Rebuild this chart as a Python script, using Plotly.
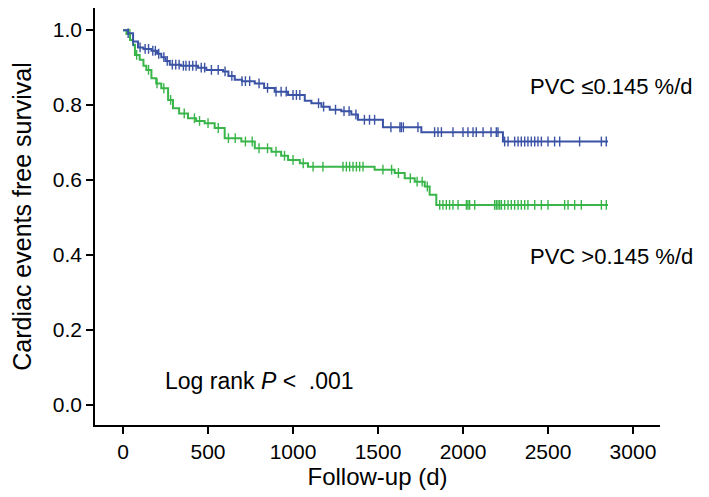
import numpy as np
import plotly.graph_objects as go

# ---- data ----
low_t = [0, 29, 59, 88, 120, 167, 200, 225, 250, 275, 340, 441, 490, 588, 620, 657, 700, 775, 830, 892,
         971, 1069, 1108, 1167, 1216, 1284, 1343, 1382, 1529, 1755, 2235, 2853]
low_s = [1.0, 0.992, 0.970, 0.954, 0.950, 0.945, 0.937, 0.928, 0.918, 0.908, 0.905, 0.900, 0.894, 0.890,
         0.878, 0.868, 0.864, 0.858, 0.846, 0.836, 0.827, 0.812, 0.805, 0.796, 0.788, 0.784, 0.775, 0.761,
         0.741, 0.728, 0.703, 0.703]
low_cens = [30, 60, 100, 130, 150, 175, 190, 210, 240, 260, 290, 310, 330, 355, 370, 390, 410, 430, 460, 480,
            520, 560, 600, 640, 700, 720, 745, 800, 850, 900, 930, 960, 1000, 1020, 1040, 1150, 1180, 1250,
            1300, 1330, 1370, 1420, 1450, 1480, 1576, 1629, 1637, 1649, 1735, 1833, 1853, 1873, 1941, 2000,
            2029, 2059, 2078, 2118, 2165, 2196, 2206, 2245, 2265, 2304, 2324, 2343, 2363, 2382, 2402, 2422,
            2441, 2461, 2500, 2539, 2569, 2686, 2814, 2843]

high_t = [0, 20, 41, 59, 70, 98, 120, 137, 167, 195, 225, 265, 294, 330, 382, 430, 480, 539, 598, 696, 775,
          873, 930, 971, 1040, 1088, 1480, 1598, 1657, 1716, 1775, 1804, 1843, 2853]
high_s = [1.0, 0.990, 0.974, 0.961, 0.934, 0.921, 0.905, 0.894, 0.872, 0.858, 0.845, 0.814, 0.792, 0.778,
          0.765, 0.758, 0.752, 0.739, 0.712, 0.703, 0.685, 0.676, 0.665, 0.654, 0.645, 0.636, 0.628, 0.619,
          0.605, 0.596, 0.583, 0.561, 0.534, 0.534]
high_cens = [40, 80, 150, 200, 240, 280, 360, 420, 450, 500, 560, 620, 660, 720, 760, 800, 850, 900, 950,
             1000, 1060, 1118, 1176, 1294, 1314, 1333, 1353, 1373, 1392, 1412, 1529, 1580, 1620, 1690, 1730,
             1760, 1790, 1863, 1882, 1902, 1921, 1941, 1971, 2020, 2029, 2039, 2069, 2186, 2196, 2206, 2216,
             2226, 2245, 2265, 2284, 2304, 2324, 2343, 2363, 2382, 2422, 2461, 2500, 2598, 2618, 2657, 2696,
             2814, 2843]

x_ticks = [0, 500, 1000, 1500, 2000, 2500, 3000]
y_ticks = [0.0, 0.2, 0.4, 0.6, 0.8, 1.0]

BLUE = "#3B53A5"
GREEN = "#39B54A"
FONT = "Liberation Sans, Arial, sans-serif"


def step_at(t, s, c):
    t = np.asarray(t)
    s = np.asarray(s)
    idx = np.searchsorted(t, np.asarray(c), side="right") - 1
    return s[idx]


fig = go.Figure()
for t, s, cens, col in [(high_t, high_s, high_cens, GREEN), (low_t, low_s, low_cens, BLUE)]:
    fig.add_trace(go.Scatter(x=t, y=s, mode="lines", line=dict(color=col, width=2, shape="hv"),
                             showlegend=False, hoverinfo="skip"))
    fig.add_trace(go.Scatter(x=cens, y=step_at(t, s, cens), mode="markers",
                             marker=dict(symbol="line-ns", size=7, line=dict(color=col, width=1.4)),
                             showlegend=False, hoverinfo="skip"))

axis_common = dict(showline=True, linecolor="black", linewidth=1.5, ticks="outside", ticklen=7,
                   tickwidth=1.5, tickcolor="black", showgrid=False, zeroline=False, mirror=False,
                   tickfont=dict(family=FONT, size=21, color="black"))

fig.update_layout(
    width=709, height=497,
    margin=dict(l=87, r=57, t=0, b=80),
    plot_bgcolor="white", paper_bgcolor="white",
    font=dict(family=FONT, color="black"),
    xaxis=dict(range=[-165, 3159], tickvals=x_ticks, ticktext=[str(v) for v in x_ticks],
               title=dict(text="Follow-up (d)", font=dict(family=FONT, size=24), standoff=6),
               **axis_common),
    yaxis=dict(range=[-0.053, 1.059], tickvals=y_ticks, ticktext=[f"{v:.1f}" for v in y_ticks],
               title=dict(text="Cardiac events free survival", font=dict(family=FONT, size=25), standoff=14),
               **axis_common),
    annotations=[
        dict(x=2385, y=0.851, xref="x", yref="y", text="PVC \u22640.145 %/d", showarrow=False,
             xanchor="left", yanchor="middle", font=dict(family=FONT, size=22, color="black")),
        dict(x=2385, y=0.397, xref="x", yref="y", text="PVC >0.145 %/d", showarrow=False,
             xanchor="left", yanchor="middle", font=dict(family=FONT, size=22, color="black")),
        dict(x=235, y=0.064, xref="x", yref="y", text="Log rank <i>P</i> <  .001", showarrow=False,
             xanchor="left", yanchor="middle", font=dict(family=FONT, size=23, color="black")),
    ],
)

fig.write_html("out.html")
